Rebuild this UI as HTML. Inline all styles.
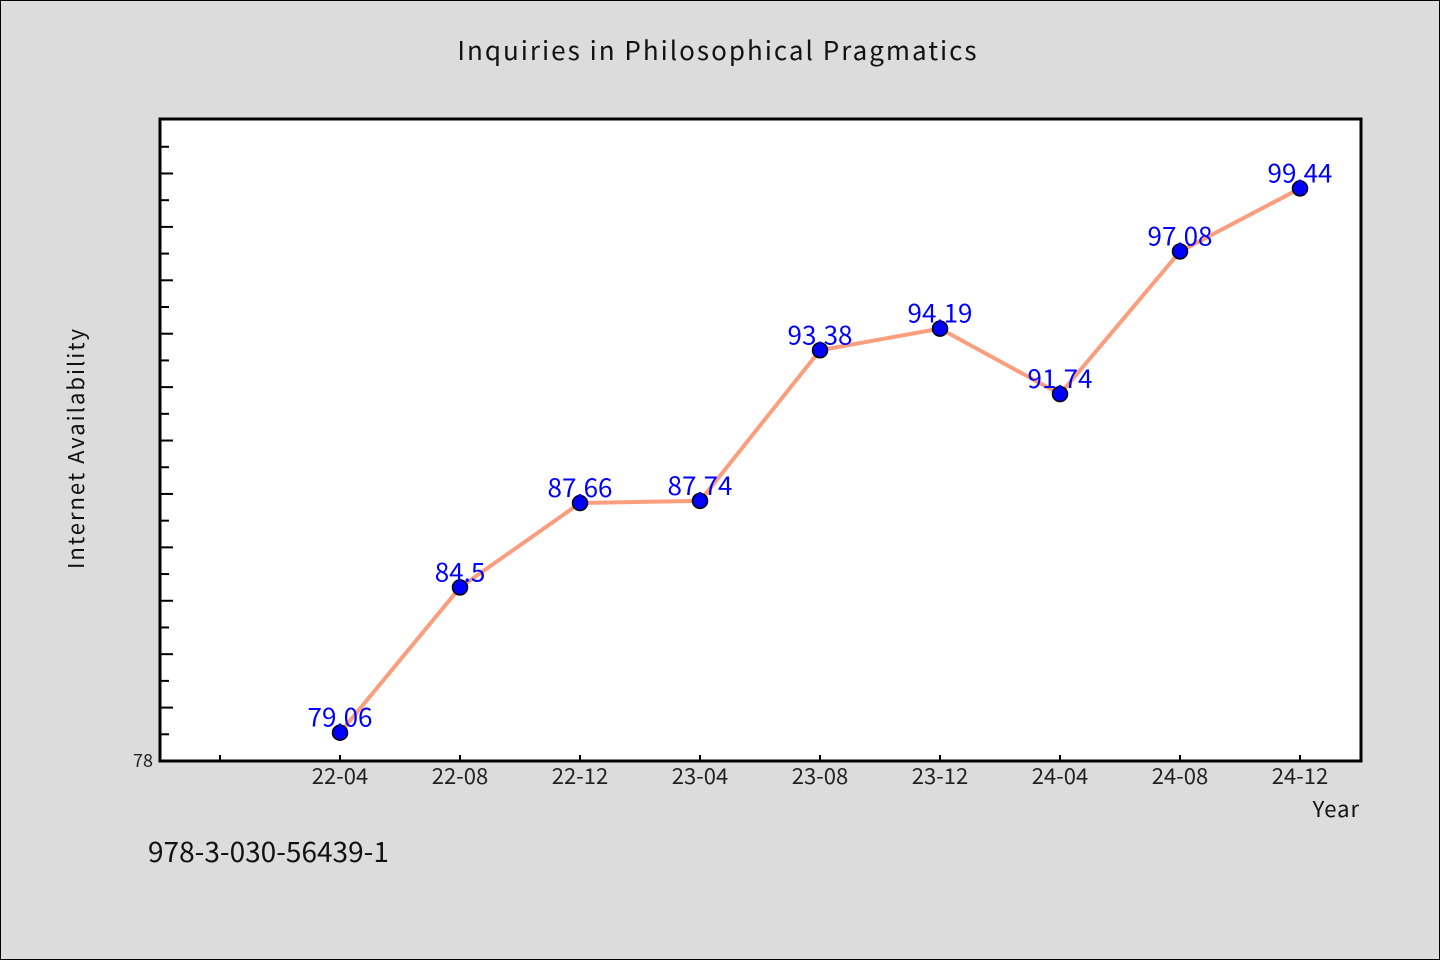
<!DOCTYPE html>
<html><head><meta charset="utf-8"><style>
body{margin:0;background:#dcdcdc;}
svg{display:block;font-family:"WenQuanYi Zen Hei","Noto Sans CJK SC",sans-serif;}
</style></head><body>
<svg id="c" width="1440" height="960">
<rect x="0.5" y="0.5" width="1439" height="959" fill="#dcdcdc" stroke="#000"/>
<text x="718" y="60" font-size="26" text-anchor="middle" letter-spacing="2" fill="#111">Inquiries in Philosophical Pragmatics</text>
<rect x="160" y="119" width="1201" height="642" fill="#fff" stroke="#000" stroke-width="3"/>
<text transform="translate(84,448) rotate(-90)" font-size="22" text-anchor="middle" letter-spacing="2" fill="#111">Internet Availability</text>
<text x="1360" y="817" font-size="22" text-anchor="end" letter-spacing="1" fill="#111">Year</text>
<text x="148" y="862" font-size="28" fill="#111">978-3-030-56439-1</text>
<g id="ax"></g><g id="marks"></g>
</svg>
<script>
const categories=["22-04","22-08","22-12","23-04","23-08","23-12","24-04","24-08","24-12"];
const values=[79.06,84.5,87.66,87.74,93.38,94.19,91.74,97.08,99.44];
const valueLabels=["79.06","84.5","87.66","87.74","93.38","94.19","91.74","97.08","99.44"];
const yMin=78,yMax=102.04;
const NS="http://www.w3.org/2000/svg";
const L=160,R=1361,T=119,B=761;
function xs(i){return 340+i*120;}
function ys(v){return B-(v-yMin)/(yMax-yMin)*(B-T);}
function mk(t,a,p){const e=document.createElementNS(NS,t);for(const k in a)e.setAttribute(k,a[k]);p.appendChild(e);return e;}
const ax=document.getElementById('ax'),mg=document.getElementById('marks');
for(let v=79;v<=101;v++){const y=ys(v);const len=v%2===0?13:9;
const t=mk('line',{x1:L,x2:L+len,y1:y,y2:y,stroke:'#000','stroke-width':2},ax);

}
const yl=mk('text',{x:153,y:767,'font-size':18,'text-anchor':'end',fill:'#222'},ax);yl.textContent=String(yMin);


for(let i=-1;i<categories.length;i++){const x=xs(i);
const t=mk('line',{x1:x,x2:x,y1:B,y2:B-6,stroke:'#000','stroke-width':2},ax);


if(i>=0){const l=mk('text',{x:x,y:784,'font-size':22,'text-anchor':'middle',fill:'#222'},ax);l.textContent=categories[i];

}}
const pts=values.map((v,i)=>xs(i)+','+ys(v)).join(' ');
const pl=mk('polyline',{points:pts,fill:'none',stroke:'#fa9e7e','stroke-width':4,'stroke-linejoin':'round'},mg);


values.forEach((v,i)=>{
const c=mk('circle',{cx:xs(i),cy:ys(v),r:7.5,fill:'#0000ff',stroke:'#000','stroke-width':1.5},mg);


const t=mk('text',{x:xs(i),y:ys(v)+8-14,'font-size':26,'text-anchor':'middle',fill:'#0000ff'},mg);
t.textContent=valueLabels[i];

});
</script>
</body></html>
